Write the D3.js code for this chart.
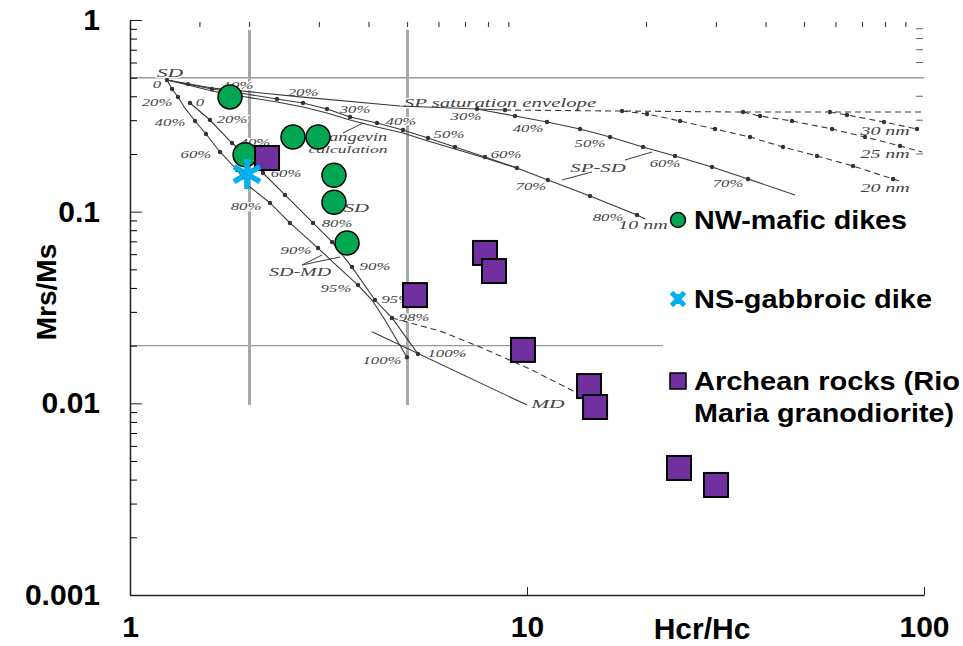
<!DOCTYPE html>
<html>
<head>
<meta charset="utf-8">
<script src="https://cdn.jsdelivr.net/npm/d3@7"></script>
<style>
body { margin: 0; background: #fff; }
svg { display: block; }
</style>
</head>
<body>
<div id="chart"></div>
<script>
// samples: [Hcr/Hc, Mrs/Ms]
var nwMafic = [[1.786, 0.397], [2.574, 0.245], [2.976, 0.245], [1.949, 0.198],
	[3.264, 0.155], [3.264, 0.112], [3.521, 0.0686]];
var nsGabbro = [[1.971, 0.157]];
var archean = [[2.214, 0.1905], [7.839, 0.0609], [8.258, 0.049], [5.223, 0.0367],
	[9.77, 0.019], [14.33, 0.0123], [14.84, 0.00957], [24.15, 0.0046], [29.93, 0.00375]];

// Day plot boundaries: [value, from, to]
var dayH = [[0.5, 1, 100], [0.02, 1, 22]];
var dayV = [[2, 0.89, 0.0098], [5, 0.89, 0.0098]];

// Dunlop (2002) mixing curves, third item = 1 where the curve has a dot
var envelope = [[1.239, 0.486, 1], [1.609, 0.442], [2.681, 0.397], [4.786, 0.356], [7.483, 0.343, 1], [8.804, 0.339, 1]];
var envelopeDash = [[8.804, 0.339], [17.35, 0.335, 1], [35.0, 0.331, 1], [57.97, 0.331, 1], [100, 0.331]];
var sp10a = [[1.239, 0.486], [1.4, 0.463, 1], [1.609, 0.4365, 1], [1.893, 0.416], [2.346, 0.387, 1], [2.728, 0.369, 1],
	[3.135, 0.343, 1], [3.583, 0.312, 1], [4.19, 0.29, 1], [4.871, 0.2667, 1], [5.632, 0.2423, 1], [6.585, 0.2174, 1],
	[7.839, 0.1929, 1], [9.437, 0.169, 1], [11.29, 0.1463, 1], [14.41, 0.1207, 1], [18.93, 0.0961, 1], [19.83, 0.0916]];
var sp10b = [[1.239, 0.486], [1.4, 0.458], [1.609, 0.4261], [1.893, 0.4013], [2.346, 0.3734], [2.728, 0.3516],
	[3.135, 0.3272], [3.583, 0.3008], [4.19, 0.2765], [4.871, 0.2573], [5.632, 0.2337], [6.585, 0.2123],
	[7.839, 0.1905], [9.437, 0.169]];
var sp15 = [[7.483, 0.3433], [9.328, 0.3155, 1], [11.23, 0.2936, 1], [13.6, 0.27, 1], [16.19, 0.2452, 1],
	[19.6, 0.2174, 1], [23.6, 0.1952, 1], [29.24, 0.171, 1], [36.04, 0.1481, 1], [47.32, 0.1222]];
var sp20 = [[17.35, 0.3351], [20.06, 0.3233, 1], [24.29, 0.2972, 1], [29.76, 0.27, 1], [36.46, 0.2452, 1],
	[44.14, 0.2174, 1], [53.77, 0.1952, 1], [66.25, 0.1731, 1], [83.56, 0.1481, 1], [88.5, 0.1428]];
var sp25 = [[35.0, 0.3311], [38.63, 0.3155, 1], [46.5, 0.2972, 1], [58.66, 0.27, 1], [71.03, 0.2452, 1],
	[87.01, 0.2201, 1], [98.9, 0.2048]];
var sp30 = [[57.97, 0.3311], [63.97, 0.3194, 1], [79.3, 0.2936, 1], [96.0, 0.27, 1]];
var sdmdOuter = [[1.239, 0.4863], [1.276, 0.4365, 1], [1.321, 0.3966, 1], [1.375, 0.3474], [1.458, 0.2972, 1],
	[1.554, 0.2542, 1], [1.686, 0.2048, 1], [1.86, 0.165, 1], [2.006, 0.1345], [2.253, 0.111, 1], [2.529, 0.0873, 1],
	[2.976, 0.0646, 1], [3.323, 0.0521], [3.752, 0.0414, 1], [4.07, 0.0346], [4.388, 0.0272], [4.985, 0.0174, 1]];
var sdmdInner = [[1.416, 0.369, 1], [1.59, 0.3008, 1], [1.807, 0.2281, 1], [1.971, 0.1929], [2.163, 0.1591, 1],
	[2.457, 0.1222, 1], [2.891, 0.0873, 1], [3.228, 0.0695, 1], [3.624, 0.0514, 1], [4.141, 0.0346, 1],
	[4.571, 0.0279, 1], [5.313, 0.0181, 1]];
var sdmdDash = [[4.571, 0.0279], [6.037, 0.02384], [7.614, 0.01967], [10.18, 0.0151], [14.0, 0.0108]];
var mdLine = [[4.07, 0.0236], [10.0, 0.0098]];
var pointers = [[[2.712, 0.0527], [3.045, 0.0594]], [[2.712, 0.0527], [3.381, 0.058]],
	[[12.25, 0.1463], [14.58, 0.1611]], [[17.65, 0.186], [20.64, 0.2048]], [[3.44, 0.2573], [3.864, 0.2901]]];

// curve labels: [text, Hcr/Hc, Mrs/Ms, size]
var curveLabels = [
	['SD', 1.261, 0.532, 13.5], ['0', 1.17, 0.46, 10.5], ['10%', 1.871, 0.458, 10.5], ['20%', 2.728, 0.421, 10.5],
	['20%', 1.17, 0.3734, 10.5], ['0', 1.5, 0.3734, 10.5], ['30%', 3.688, 0.3433, 10.5], ['40%', 4.814, 0.2972, 10.5],
	['40%', 1.261, 0.2936, 10.5], ['20%', 1.807, 0.3044, 10.5], ['40%', 2.064, 0.2309, 10.5], ['60%', 1.466, 0.1999, 10.5],
	['60%', 2.472, 0.1591, 10.5], ['80%', 1.96, 0.1071, 10.5], ['80%', 3.323, 0.0873, 10.5], ['90%', 2.619, 0.0631, 10.5],
	['SP saturation envelope', 8.55, 0.3734, 13], ['30%', 7.02, 0.3155, 10.5], ['50%', 6.36, 0.2542, 10.5],
	['40%', 10.06, 0.2732, 10.5], ['60%', 8.855, 0.1999, 10.5], ['50%', 14.41, 0.2281, 10.5], ['SP-SD', 15.1, 0.171, 13],
	['60%', 22.27, 0.1794, 10.5], ['70%', 10.23, 0.1361, 10.5], ['80%', 16.0, 0.0938, 10.5], ['10 nm', 19.6, 0.0852, 12.5],
	['70%', 32.1, 0.1411, 10.5], ['30 nm', 79.8, 0.2636, 12.5], ['25 nm', 79.8, 0.1999, 12.5], ['20 nm', 79.8, 0.1329, 12.5],
	['90%', 4.141, 0.0521, 10.5], ['SD-MD', 2.681, 0.0484, 12.5], ['95%', 3.303, 0.04, 10.5], ['95%', 4.7, 0.035, 10.5],
	['98%', 5.193, 0.0282, 10.5], ['100%', 6.288, 0.0183, 10.5], ['100%', 4.313, 0.0168, 10.5], ['MD', 11.29, 0.01, 13.5],
	['PSD', 3.583, 0.1058, 13], ['Langevin', 3.646, 0.2465, 11.5], ['calculation', 3.541, 0.2125, 11]
];

var yTicks = [1, 0.1, 0.01, 0.001];
var yTickText = ['1', '0.1', '0.01', '0.001'];
var xTicks = [1, 10, 100];
var xTickText = ['1', '10', '100'];

var legendItems = [
	{type: 'circle', lines: ['NW-mafic dikes'], widths: [213]},
	{type: 'star', lines: ['NS-gabbroic dike'], widths: [238]},
	{type: 'square', lines: ['Archean rocks (Rio', 'Maria granodiorite)'], widths: [266, 260]}
];

var green = '#00a651', cyan = '#00b0f0', purple = '#7030a0', ink = '#3a3a3a';

var svg = d3.select('#chart')
	.append('svg')
	.attr('width', 963)
	.attr('height', 646)
	.style('font-family', '"Liberation Sans", Arial, sans-serif');

var x = d3.scaleLog().domain([1, 100]).range([130, 924]);
var y = d3.scaleLog().domain([0.001, 1]).range([595, 20]);

// grey boundary lines
svg.selectAll('.hline').data(dayH).enter().append('line')
	.attr('x1', function(d) { return x(d[1]); })
	.attr('x2', function(d) { return x(d[2]); })
	.attr('y1', function(d) { return y(d[0]); })
	.attr('y2', function(d) { return y(d[0]); })
	.attr('stroke', '#9a9a9a').attr('stroke-width', 1.4);

svg.selectAll('.vline').data(dayV).enter().append('line')
	.attr('x1', function(d) { return x(d[0]); })
	.attr('x2', function(d) { return x(d[0]); })
	.attr('y1', function(d) { return y(d[1]); })
	.attr('y2', function(d) { return y(d[2]); })
	.attr('stroke', '#a8a8a8').attr('stroke-width', 3);

// curve labels, white halo cuts the grey lines like the scanned figure
svg.selectAll('.clabel').data(curveLabels).enter().append('text')
	.attr('transform', function(d) { return 'translate(' + x(d[1]) + ',' + y(d[2]) + ') scale(1.6,1)'; })
	.attr('text-anchor', 'middle')
	.attr('dy', '0.35em')
	.style('font-family', '"Liberation Serif", "Times New Roman", serif')
	.style('font-style', 'italic')
	.style('font-size', function(d) { return d[3] + 'px'; })
	.attr('fill', '#444')
	.attr('stroke', '#fff').attr('stroke-width', 2.5).attr('paint-order', 'stroke')
	.text(function(d) { return d[0]; });

var line = d3.line()
	.x(function(d) { return x(d[0]); })
	.y(function(d) { return y(d[1]); });

var curves = [
	{pts: envelope, dash: null}, {pts: envelopeDash, dash: '6,4'},
	{pts: sp10a, dash: null}, {pts: sp10b, dash: null}, {pts: sp15, dash: null},
	{pts: sp20, dash: '6,4'}, {pts: sp25, dash: '6,4'}, {pts: sp30, dash: '6,4'},
	{pts: sdmdOuter, dash: null}, {pts: sdmdInner, dash: null}, {pts: sdmdDash, dash: '6,4'},
	{pts: mdLine, dash: null}
];

var cg = svg.append('g');
curves.forEach(function(c) {
	cg.append('path')
		.attr('d', line(c.pts))
		.attr('fill', 'none')
		.attr('stroke', ink)
		.attr('stroke-width', 1.1)
		.attr('stroke-dasharray', c.dash);
	cg.selectAll(null)
		.data(c.pts.filter(function(p) { return p[2]; }))
		.enter().append('circle')
		.attr('cx', function(p) { return x(p[0]); })
		.attr('cy', function(p) { return y(p[1]); })
		.attr('r', 2.2)
		.attr('fill', '#333');
});

pointers.forEach(function(p) {
	cg.append('path').attr('d', line(p)).attr('stroke', ink).attr('stroke-width', 1);
});

// axes
var yAxis = svg.append('g')
	.attr('transform', 'translate(130,0)')
	.call(d3.axisLeft(y).tickValues(yTicks).tickSizeInner(-12).tickSizeOuter(0).tickPadding(30)
		.tickFormat(function(d, i) { return yTickText[i]; }));

var minors = [];
[0.001, 0.01, 0.1].forEach(function(dec) {
	for (var k = 2; k <= 9; k++) minors.push(dec * k);
});
svg.append('g')
	.attr('transform', 'translate(130,0)')
	.call(d3.axisLeft(y).tickValues(minors).tickSizeInner(-7).tickSizeOuter(0).tickFormat(''))
	.select('.domain').remove();

var xAxis = svg.append('g')
	.attr('transform', 'translate(0,595)')
	.call(d3.axisBottom(x).tickValues(xTicks).tickSizeInner(-8).tickSizeOuter(0).tickPadding(21)
		.tickFormat(function(d, i) { return xTickText[i]; }));

[yAxis, xAxis].forEach(function(a) {
	a.selectAll('text').style('font-size', '30px').style('font-weight', 'bold').attr('fill', '#000')
		.style('font-family', '"Liberation Sans", Arial, sans-serif');
	a.selectAll('line').attr('stroke', '#222');
	a.select('.domain').attr('stroke', '#222').attr('stroke-width', 1.5);
});

// small ticks of the scanned frame (top and right)
var topTicks = [1.5, 2, 3, 4, 5, 6, 7, 8, 9, 20, 30, 40, 50, 60, 70, 80, 90];
svg.selectAll('.tt').data(topTicks).enter().append('line')
	.attr('x1', function(d) { return x(d); }).attr('x2', function(d) { return x(d); })
	.attr('y1', 22).attr('y2', 27)
	.attr('stroke', '#444').attr('stroke-width', 1.2);

var rightTicks = [0.9, 0.8, 0.7, 0.6, 0.4, 0.3, 0.2];
svg.selectAll('.rt').data(rightTicks).enter().append('line')
	.attr('x1', 916).attr('x2', 923)
	.attr('y1', function(d) { return y(d); }).attr('y2', function(d) { return y(d); })
	.attr('stroke', '#666').attr('stroke-width', 1);

svg.append('text')
	.attr('transform', 'translate(56,292) rotate(-90)')
	.attr('text-anchor', 'middle')
	.style('font-size', '28px').style('font-weight', 'bold')
	.text('Mrs/Ms');

svg.append('text')
	.attr('x', 702).attr('y', 639)
	.attr('text-anchor', 'middle')
	.style('font-size', '30px').style('font-weight', 'bold')
	.text('Hcr/Hc');

// markers
function starPath(s) {
	return 'M0,' + (-s) + 'L0,' + s +
		'M' + (-s * 0.87) + ',' + (-s * 0.5) + 'L' + (s * 0.87) + ',' + (s * 0.5) +
		'M' + (-s * 0.87) + ',' + (s * 0.5) + 'L' + (s * 0.87) + ',' + (-s * 0.5);
}
function crossPath(s) {
	return 'M' + (-s) + ',' + (-s) + 'L' + s + ',' + s + 'M' + (-s) + ',' + s + 'L' + s + ',' + (-s);
}

svg.selectAll('.nw').data(nwMafic).enter().append('circle')
	.attr('cx', function(d) { return x(d[0]); })
	.attr('cy', function(d) { return y(d[1]); })
	.attr('r', 12)
	.attr('fill', green).attr('stroke', '#000').attr('stroke-width', 1.5);

svg.selectAll('.ar').data(archean).enter().append('rect')
	.attr('x', function(d) { return x(d[0]) - 12; })
	.attr('y', function(d) { return y(d[1]) - 12; })
	.attr('width', 24).attr('height', 24)
	.attr('fill', purple).attr('stroke', '#000').attr('stroke-width', 2);

svg.selectAll('.ns').data(nsGabbro).enter().append('path')
	.attr('transform', function(d) { return 'translate(' + x(d[0]) + ',' + y(d[1]) + ')'; })
	.attr('d', starPath(15))
	.attr('stroke', cyan).attr('stroke-width', 5.5).attr('fill', 'none');

// legend
var legend = svg.append('g').attr('transform', 'translate(678,0)');
var legendY = [220, 299, 381];
legendItems.forEach(function(item, i) {
	var g = legend.append('g').attr('transform', 'translate(0,' + legendY[i] + ')');
	if (item.type === 'circle') {
		g.append('circle').attr('r', 7.5).attr('fill', green).attr('stroke', '#000').attr('stroke-width', 1.5);
	} else if (item.type === 'star') {
		g.append('path').attr('d', crossPath(6.5)).attr('stroke', cyan).attr('stroke-width', 5).attr('fill', 'none');
		g.append('path').attr('d', 'M0,-5L0,5').attr('stroke', cyan).attr('stroke-width', 3);
	} else {
		g.append('rect').attr('x', -8).attr('y', -8).attr('width', 16).attr('height', 16)
			.attr('fill', purple).attr('stroke', '#000').attr('stroke-width', 1.5);
	}
	item.lines.forEach(function(t, j) {
		g.append('text')
			.attr('x', 16).attr('y', 9 + j * 32)
			.attr('textLength', item.widths[j])
			.attr('lengthAdjust', 'spacingAndGlyphs')
			.style('font-size', '25px').style('font-weight', 'bold')
			.text(t);
	});
});
</script>
</body>
</html>
